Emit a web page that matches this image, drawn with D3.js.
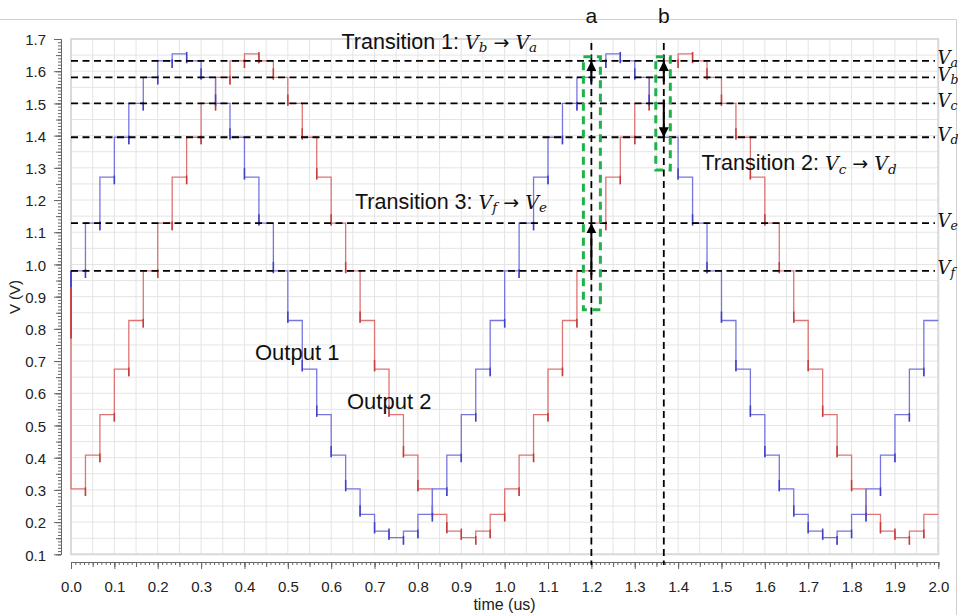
<!DOCTYPE html>
<html>
<head>
<meta charset="utf-8">
<script src="https://cdn.jsdelivr.net/npm/d3@7"></script>
<style>
  html, body { margin: 0; padding: 0; background: #fff; }
  svg { display: block; }
  .sans { font-family: "Liberation Sans", Arial, sans-serif; }
  .tick text { font-family: "Liberation Sans", Arial, sans-serif; font-size: 15px; fill: #222; }
  .mv { font-family: "DejaVu Serif", "Liberation Serif", serif; font-style: italic; }
  .ma { font-family: "DejaVu Sans", "Liberation Sans", sans-serif; }
</style>
</head>
<body>
<svg id="chart" width="958" height="615"></svg>
<script>
// ---- axis ticks ----
const timeTicks = [0.0, 0.1, 0.2, 0.3, 0.4, 0.5, 0.6, 0.7, 0.8, 0.9, 1.0,
                   1.1, 1.2, 1.3, 1.4, 1.5, 1.6, 1.7, 1.8, 1.9, 2.0];
const voltTicks = [0.1, 0.2, 0.3, 0.4, 0.5, 0.6, 0.7, 0.8, 0.9,
                   1.0, 1.1, 1.2, 1.3, 1.4, 1.5, 1.6, 1.7];

// ---- staircase outputs: one level (V) per 1/30 us step, 0 .. 2 us ----
const stepsPerUs = 30;
const output1Start = 0.93;
const output1Levels = [
  0.980, 1.128, 1.271, 1.395, 1.500, 1.581, 1.632, 1.654, 1.632, 1.581,
  1.500, 1.395, 1.271, 1.128, 0.980, 0.826, 0.675, 0.534, 0.408, 0.303,
  0.224, 0.172, 0.152, 0.172, 0.224, 0.303, 0.408, 0.534, 0.675, 0.826,
  0.980, 1.128, 1.271, 1.395, 1.500, 1.581, 1.632, 1.654, 1.632, 1.581,
  1.500, 1.395, 1.271, 1.128, 0.980, 0.826, 0.675, 0.534, 0.408, 0.303,
  0.224, 0.172, 0.152, 0.172, 0.224, 0.303, 0.408, 0.534, 0.675, 0.826
];
const output2Start = 0.93;
const output2Levels = [
  0.303, 0.408, 0.534, 0.675, 0.826, 0.980, 1.128, 1.271, 1.395, 1.500,
  1.581, 1.632, 1.654, 1.632, 1.581, 1.500, 1.395, 1.271, 1.128, 0.980,
  0.826, 0.675, 0.534, 0.408, 0.303, 0.224, 0.172, 0.152, 0.172, 0.224,
  0.303, 0.408, 0.534, 0.675, 0.826, 0.980, 1.128, 1.271, 1.395, 1.500,
  1.581, 1.632, 1.654, 1.632, 1.581, 1.500, 1.395, 1.271, 1.128, 0.980,
  0.826, 0.675, 0.534, 0.408, 0.303, 0.224, 0.172, 0.152, 0.172, 0.224
];

// ---- reference levels Va..Vf ----
const refNames  = ["a", "b", "c", "d", "e", "f"];
const refLevels = [1.632, 1.581, 1.500, 1.395, 1.128, 0.980];

// ---- marked instants a, b (us) ----
const markerNames = ["a", "b"];
const markerTimes = [1.2, 1.367];

// transitions: [marker index, from ref, to ref]
const transitions = [
  [0, "b", "a"], [0, "f", "e"],
  [1, "b", "a"], [1, "c", "d"]
];

// ---- layout ----
const svg = d3.select("#chart");
const plot = { left: 71, right: 938.3, top: 39, bottom: 554.3 };
const x = d3.scaleLinear().domain([0, 2]).range([plot.left, plot.right]);
const y = d3.scaleLinear().domain([0.1, 1.7]).range([plot.bottom, plot.top]);
const refY = name => y(refLevels[refNames.indexOf(name)]);

// outer panel frame
svg.append("path")
  .attr("d", "M0,19.5 H956.5 V615")
  .attr("fill", "none").attr("stroke", "#cfcfcf").attr("stroke-width", 1);

// ---- grid every 0.05 ----
const grid = svg.append("g").attr("stroke", "#e4e4e4").attr("stroke-width", 1);
d3.range(0, 2.0001, 0.05).forEach(t => {
  grid.append("line").attr("x1", x(t)).attr("x2", x(t))
    .attr("y1", plot.top).attr("y2", plot.bottom);
});
d3.range(0.1, 1.70001, 0.05).forEach(v => {
  grid.append("line").attr("x1", plot.left).attr("x2", plot.right)
    .attr("y1", y(v)).attr("y2", y(v));
});
svg.append("rect")
  .attr("x", plot.left).attr("y", plot.top)
  .attr("width", plot.right - plot.left).attr("height", plot.bottom - plot.top)
  .attr("fill", "none").attr("stroke", "#d9d9d9").attr("stroke-width", 2);

// ---- ruler axes ----
function ruler(axisFn, scale, step, size, domain) {
  const vals = d3.range(Math.round((domain[1] - domain[0]) / step) + 1)
    .map(i => +(domain[0] + i * step).toFixed(3));
  return axisFn(scale).tickValues(vals).tickSize(size).tickSizeOuter(0).tickFormat("");
}
const yAxisG = svg.append("g").attr("transform", "translate(61,0)");
yAxisG.append("g").call(ruler(d3.axisLeft, y, 0.01, 3, [0.1, 1.7]));
yAxisG.append("g").call(ruler(d3.axisLeft, y, 0.05, 5, [0.1, 1.7]));
yAxisG.append("g").call(d3.axisLeft(y).tickValues(voltTicks).tickSize(7).tickSizeOuter(0)
  .tickPadding(8).tickFormat(d3.format(".1f")));
yAxisG.selectAll("path, line").attr("stroke", "#666");
yAxisG.selectAll("text").attr("dy", "0.38em");

const xAxisG = svg.append("g").attr("transform", "translate(0,562)");
xAxisG.append("g").call(ruler(d3.axisBottom, x, 0.01, 3, [0, 2]));
xAxisG.append("g").call(ruler(d3.axisBottom, x, 0.05, 5, [0, 2]));
xAxisG.append("g").call(d3.axisBottom(x).tickValues(timeTicks).tickSize(7).tickSizeOuter(0)
  .tickPadding(12).tickFormat(d3.format(".1f")));
xAxisG.selectAll("path, line").attr("stroke", "#666");

svg.append("text").attr("class", "sans")
  .attr("x", 504.5).attr("y", 609.5).attr("text-anchor", "middle")
  .attr("font-size", 16).attr("fill", "#222").text("time (us)");
svg.append("text").attr("class", "sans")
  .attr("transform", "translate(20,297) rotate(-90)").attr("text-anchor", "middle")
  .attr("font-size", 15).attr("fill", "#222").text("V (V)");

// ---- staircase traces ----
const dipUp = 0.022, overDown = 0.007;
const line = d3.line().x(d => x(d[0])).y(d => y(d[1]));

function drawOutput(levels, start, color, dark) {
  const pts = [[0, start], [0, levels[0]]];
  const glitches = [];
  for (let k = 1; k < levels.length; k++) {
    const t = k / stepsPerUs, a = levels[k - 1], b = levels[k];
    pts.push([t, a]);
    if (b > a) { pts.push([t, a - dipUp]); glitches.push([t, a - dipUp, a + 0.005]); }
    else if (b < a) { pts.push([t, b - overDown]); glitches.push([t, b + 0.028, b - overDown]); }
    pts.push([t, b]);
  }
  pts.push([levels.length / stepsPerUs, levels[levels.length - 1]]);
  svg.append("path").attr("d", line(pts))
    .attr("fill", "none").attr("stroke", color).attr("stroke-width", 1.3)
    .attr("stroke-linejoin", "miter");
  svg.append("g").selectAll("line").data(glitches).join("line")
    .attr("x1", d => x(d[0])).attr("x2", d => x(d[0]))
    .attr("y1", d => y(d[1])).attr("y2", d => y(d[2]))
    .attr("stroke", dark).attr("stroke-width", 1.5);
}
drawOutput(output2Levels, output2Start, "#de7474", "#c43c3c");
drawOutput(output1Levels, output1Start, "#7676de", "#4040c4");
// start-up transients
svg.append("line").attr("x1", x(0)).attr("x2", x(0))
  .attr("y1", y(output2Start)).attr("y2", y(0.77))
  .attr("stroke", "#c43c3c").attr("stroke-width", 1.8);
svg.append("line").attr("x1", x(0)).attr("x2", x(0))
  .attr("y1", y(output1Start)).attr("y2", y(output1Levels[0]))
  .attr("stroke", "#4040c4").attr("stroke-width", 1.8);

// ---- reference levels ----
const refG = svg.append("g");
refLevels.forEach((v, i) => {
  refG.append("line").attr("x1", plot.left).attr("x2", 935)
    .attr("y1", y(v)).attr("y2", y(v))
    .attr("stroke", "#000").attr("stroke-width", 1.8).attr("stroke-dasharray", "7,4.5");
  const t = refG.append("text").attr("x", 937.5).attr("y", y(v) + 3.5).attr("fill", "#111");
  t.append("tspan").attr("class", "mv").attr("font-size", 18).text("V");
  t.append("tspan").attr("class", "mv").attr("font-size", 12.5).attr("dy", 3).text(refNames[i]);
});

// ---- marked instants ----
markerTimes.forEach((tm, i) => {
  svg.append("line").attr("x1", x(tm)).attr("x2", x(tm))
    .attr("y1", 43).attr("y2", 565)
    .attr("stroke", "#000").attr("stroke-width", 1.8).attr("stroke-dasharray", "7,4.5");
  svg.append("text").attr("class", "sans")
    .attr("x", x(tm)).attr("y", 23).attr("text-anchor", "middle")
    .attr("font-size", 21).attr("fill", "#111").text(markerNames[i]);
});

// green highlight boxes around the transitions
const boxes = [
  { t: 0, x0: -8, x1: 9, top: 1.6445, bottom: 0.859 },
  { t: 1, x0: -8, x1: 6.5, top: 1.6445, bottom: 1.293 }
];
boxes.forEach(b => {
  const cx = x(markerTimes[b.t]);
  svg.append("rect")
    .attr("x", cx + b.x0).attr("y", y(b.top))
    .attr("width", b.x1 - b.x0).attr("height", y(b.bottom) - y(b.top))
    .attr("fill", "none").attr("stroke", "#1fb24a").attr("stroke-width", 3)
    .attr("stroke-dasharray", "8,5.5");
});

// transition arrows
svg.append("defs").append("marker")
  .attr("id", "head").attr("viewBox", "0 0 10 10")
  .attr("refX", 10).attr("refY", 5)
  .attr("markerWidth", 10).attr("markerHeight", 10)
  .attr("markerUnits", "userSpaceOnUse").attr("orient", "auto")
  .append("path").attr("d", "M0,0 L10,5 L0,10 Z").attr("fill", "#000");
transitions.forEach(([ti, from, to]) => {
  const cx = x(markerTimes[ti]);
  const y0 = refY(from), y1 = refY(to);
  const dir = y1 < y0 ? 1 : -1;
  svg.append("line").attr("x1", cx).attr("x2", cx)
    .attr("y1", y0 + 4 * dir).attr("y2", y1)
    .attr("stroke", "#000").attr("stroke-width", 2)
    .attr("marker-end", "url(#head)");
});

// ---- text annotations ----
function transitionLabel(px, py, title, s1, s2) {
  const t = svg.append("text").attr("x", px).attr("y", py).attr("fill", "#111");
  t.append("tspan").attr("class", "sans").attr("font-size", 21.5).text(title + " ");
  t.append("tspan").attr("class", "mv").attr("font-size", 19).text("V");
  t.append("tspan").attr("class", "mv").attr("font-size", 13.5).attr("dy", 3.5).text(s1);
  t.append("tspan").attr("class", "ma").attr("font-size", 19).attr("dy", -3.5).text(" \u2192 ");
  t.append("tspan").attr("class", "mv").attr("font-size", 19).text("V");
  t.append("tspan").attr("class", "mv").attr("font-size", 13.5).attr("dy", 3.5).text(s2);
}
transitionLabel(341.5, 48.5, "Transition 1:", "b", "a");
transitionLabel(355, 208.5, "Transition 3:", "f", "e");
transitionLabel(701.5, 170, "Transition 2:", "c", "d");

svg.append("text").attr("class", "sans").attr("x", 255).attr("y", 359.5)
  .attr("font-size", 22).attr("fill", "#111").text("Output 1");
svg.append("text").attr("class", "sans").attr("x", 347).attr("y", 408.5)
  .attr("font-size", 22).attr("fill", "#111").text("Output 2");
</script>
</body>
</html>
